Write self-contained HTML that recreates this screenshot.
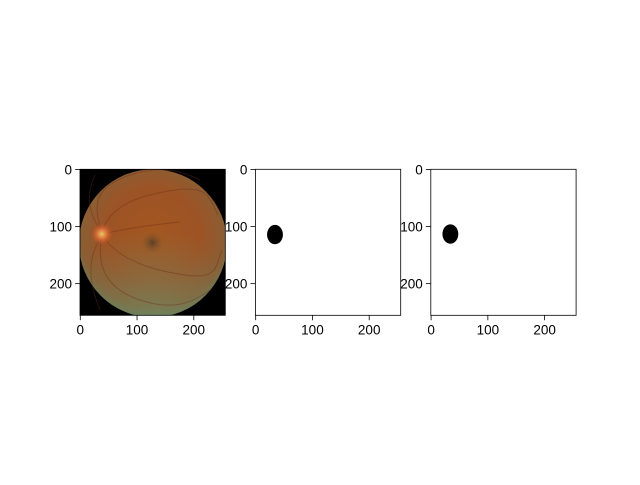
<!DOCTYPE html>
<html><head><meta charset="utf-8"><style>
html,body{margin:0;padding:0;background:#fff}
svg text{font-family:"Liberation Sans","DejaVu Sans",sans-serif;font-size:13.5px;fill:#000}
</style></head><body>
<svg id="fig" width="640" height="480" viewBox="0 0 640 480" xmlns="http://www.w3.org/2000/svg">
<defs>
<radialGradient id="fundusG" cx="0.5" cy="0.45" r="0.55">
<stop offset="0" stop-color="#a4561e"/><stop offset="0.6" stop-color="#9c5426"/>
<stop offset="0.88" stop-color="#8a5e34"/><stop offset="1" stop-color="#6f7450"/>
</radialGradient>
<radialGradient id="discG"><stop offset="0" stop-color="#e8c860"/><stop offset="0.45" stop-color="#d8703a"/><stop offset="1" stop-color="#c05020" stop-opacity="0"/></radialGradient>
<radialGradient id="foveaG"><stop offset="0" stop-color="#5a4025"/><stop offset="1" stop-color="#8a5028" stop-opacity="0"/></radialGradient>
<radialGradient id="greenG" cx="0.5" cy="1" r="0.6"><stop offset="0" stop-color="#6f8a64" stop-opacity="0.7"/><stop offset="1" stop-color="#6f8a64" stop-opacity="0"/></radialGradient>
<clipPath id="clip1"><rect x="80" y="169.3" width="145.3" height="146"/></clipPath>
</defs>
<g id="panels"></g>
</svg>
<script>
const xTicks=[0,100,200];
const yTicks=[0,100,200];
const imgSize=[256,256];
const maskCenter=[[34,114],[34,113]];
const maskRadius=[[14,17],[14,17]];
const panelLefts=[80,255.4,430.8];
const topY=169.3, W=145.3, H=146;
const NS='http://www.w3.org/2000/svg';
const g=document.getElementById('panels');
function mk(tag,attrs,parent){const e=document.createElementNS(NS,tag);for(const k in attrs)e.setAttribute(k,attrs[k]);(parent||g).appendChild(e);return e;}
panelLefts.forEach((L,i)=>{
  const sx=v=>L+(v+0.5)*W/imgSize[0];
  const sy=v=>topY+(v+0.5)*H/imgSize[1];
  const ax=mk('g',{});
  
  
  if(i===0){
    const im=mk('g',{'clip-path':'url(#clip1)'},ax);
    
    
    mk('rect',{x:L,y:topY,width:W,height:H,fill:'#000'},im);
    mk('circle',{cx:L+73,cy:topY+74,r:74,fill:'url(#fundusG)'},im);
    mk('circle',{cx:L+73,cy:topY+74,r:74,fill:'url(#greenG)'},im);
    const vs=["M102,232 C90,200 100,185 130,175 S180,170 200,180","M102,232 C110,205 140,195 175,190 S210,200 218,215","M102,236 C95,270 110,290 140,300 S190,305 210,290","M102,236 C120,260 150,270 185,275 S215,265 222,250","M102,232 C85,210 88,190 95,175","M102,236 C85,260 90,285 100,310","M102,234 C130,228 150,225 180,222"];
    vs.forEach(d=>mk('path',{d:d,stroke:'#6a2a18','stroke-width':1,fill:'none',opacity:0.4},im));
    mk('circle',{cx:sx(38),cy:sy(113),r:11,fill:'url(#discG)'},im);
    mk('circle',{cx:sx(127),cy:sy(128),r:11,fill:'url(#foveaG)'},im);
  } else {
    const [c,r]=maskCenter[i-1];const [rc,rr]=maskRadius[i-1];
    const m=mk('rect',{x:L,y:topY,width:W,height:H,fill:'#fff'},ax);
    
    
    const e=mk('ellipse',{cx:sx(c),cy:sy(r),rx:rc*W/imgSize[0],ry:rr*H/imgSize[1],fill:'#000'},ax);
    
    
  }
  const fr=mk('rect',{x:L,y:topY,width:W,height:H,fill:'none',stroke:'#000','stroke-width':0.8},ax);
  
  
  xTicks.forEach(t=>{const x=sx(t);
    mk('line',{x1:x,x2:x,y1:topY+H,y2:topY+H+4.9,stroke:'#000','stroke-width':0.8},ax);
    const tx=mk('text',{x:x,y:topY+H+19,'text-anchor':'middle'},ax);tx.textContent=t;
    
    });
  yTicks.forEach(t=>{const y=sy(t);
    mk('line',{x1:L,x2:L-4.9,y1:y,y2:y,stroke:'#000','stroke-width':0.8},ax);
    const tx=mk('text',{x:L-8,y:y+5,'text-anchor':'end'},ax);tx.textContent=t;
    
    });
});
</script>
</body></html>
